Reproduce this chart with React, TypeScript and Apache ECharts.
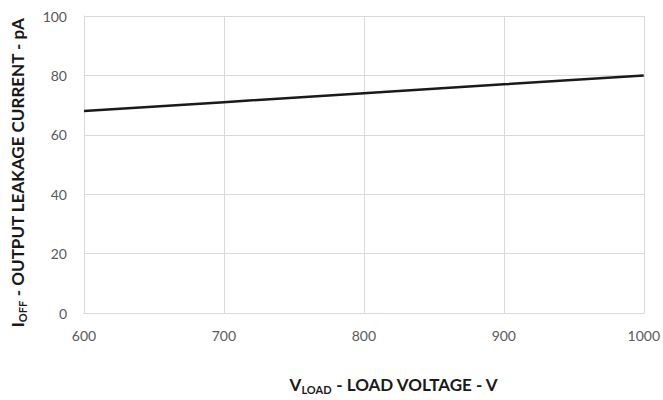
import React, { useEffect, useRef } from "react";
import * as echarts from "echarts";

const xValues = [600, 700, 800, 900, 1000];
const leakage = [68, 71, 74, 77, 80];
const xTicks = { min: 600, max: 1000, interval: 100 };
const yTicks = { min: 0, max: 100, interval: 20 };

export default function App() {
  const ref = useRef<HTMLDivElement>(null);
  useEffect(() => {
    if (!ref.current) return;
    document.body.style.margin = "0";
    document.body.style.overflow = "hidden";
    const chart = echarts.init(ref.current, null, { renderer: "svg" });
    const font = "Lato, 'Open Sans', sans-serif";
    const rich = {
      b: { fontFamily: font, fontSize: 17, fontWeight: "bold", color: "#1a1a1a", lineHeight: 22 },
      s: { fontFamily: font, fontSize: 11, fontWeight: "bold", color: "#1a1a1a", lineHeight: 22, verticalAlign: "bottom", padding: [7, 0, 0, 0] },
    };
    chart.setOption({
      animation: false,
      grid: { left: 84, right: 18, top: 16, bottom: 78, containLabel: false },
      xAxis: {
        type: "value",
        min: xTicks.min,
        max: xTicks.max,
        interval: xTicks.interval,
        name: "{b|V}{s|LOAD}{b| - LOAD VOLTAGE - V}",
        nameLocation: "middle",
        nameGap: 60,
        nameTextStyle: { rich, padding: [0, 0, 0, 60] },
        axisLine: { show: true, lineStyle: { color: "#d9d9d9", width: 1 } },
        axisTick: { show: false },
        splitLine: { show: true, lineStyle: { color: "#d9d9d9", width: 1 } },
        axisLabel: { color: "#595959", fontFamily: font, fontSize: 14, margin: 15, formatter: (v: number) => String(v) },
      },
      yAxis: {
        type: "value",
        min: yTicks.min,
        max: yTicks.max,
        interval: yTicks.interval,
        name: "{b|I}{s|OFF}{b| - OUTPUT LEAKAGE CURRENT - pA}",
        nameLocation: "middle",
        nameGap: 56,
        nameTextStyle: { rich, padding: [0, 16, 0, 0] },
        axisLine: { show: true, lineStyle: { color: "#d9d9d9", width: 1 } },
        axisTick: { show: false },
        splitLine: { show: true, lineStyle: { color: "#d9d9d9", width: 1 } },
        axisLabel: { color: "#595959", fontFamily: font, fontSize: 14, margin: 17 },
      },
      series: [
        {
          type: "line",
          data: xValues.map((x, i) => [x, leakage[i]]),
          showSymbol: false,
          lineStyle: { color: "#1a1a1a", width: 2.5 },
          silent: true,
        },
      ],
    });
    return () => chart.dispose();
  }, []);
  return <div ref={ref} style={{ position: "absolute", left: 0, top: 0, width: 663, height: 400 }} />;
}
